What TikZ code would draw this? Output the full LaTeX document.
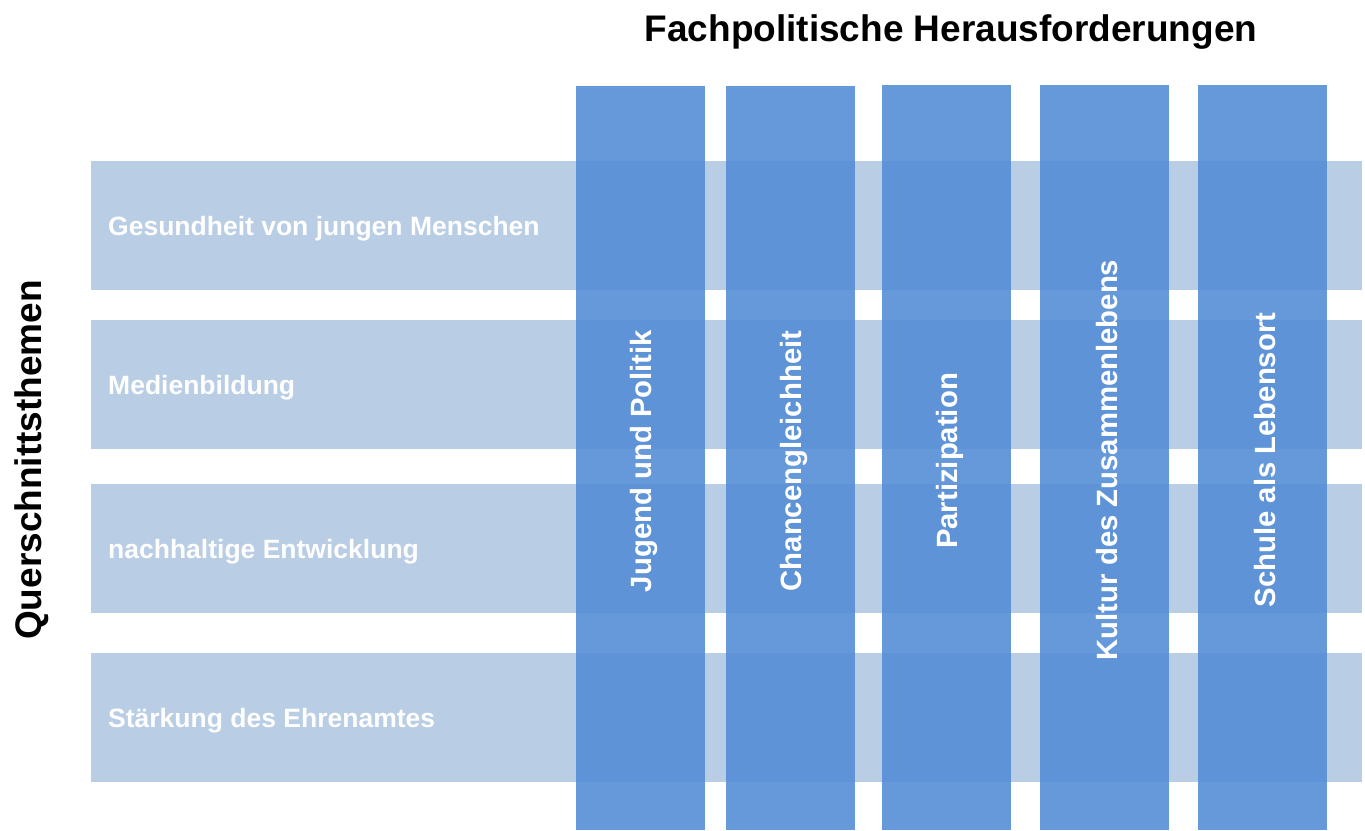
\documentclass[tikz,border=0pt]{standalone}
\usepackage{fontspec}
\setmainfont{Liberation Sans}
\definecolor{rowblue}{RGB}{185,205,229}
\definecolor{colblue}{RGB}{85,142,214}
\tikzset{
  rowbar/.style={fill=rowblue},
  colbar/.style={fill=colblue, opacity=0.9},
  rowlabel/.style={anchor=west, inner sep=0pt, text=white, font=\bfseries\fontsize{26.5}{30}\selectfont},
  collabel/.style={rotate=90, inner sep=0pt, text=white, font=\bfseries\fontsize{29.3}{32}\selectfont},
  headline/.style={inner sep=0pt, font=\bfseries\fontsize{37}{40}\selectfont}
}
\begin{document}
\begin{tikzpicture}[x=1pt,y=-1pt]
\useasboundingbox (0,0) rectangle (1365,830);
% Querschnittsthemen
\fill[rowbar] (91,161) rectangle (1362,290);
\fill[rowbar] (91,320) rectangle (1362,449);
\fill[rowbar] (91,484) rectangle (1362,613);
\fill[rowbar] (91,653) rectangle (1362,782);
% Herausforderungen
\fill[colbar] (576,86) rectangle (705,830);
\fill[colbar] (726,86) rectangle (855,830);
\fill[colbar] (882,85) rectangle (1011,830);
\fill[colbar] (1040,85) rectangle (1169,830);
\fill[colbar] (1198,85) rectangle (1327,830);
\node[headline] (fach) at (951,32) {Fachpolitische Herausforderungen};
\node[headline, rotate=90] (quer) at (32,460) {Querschnittsthemen};
\node[rowlabel] (gesund) at (108,229) {Gesundheit von jungen Menschen};
\node[rowlabel] (medien) at (108,388) {Medienbildung};
\node[rowlabel] (nachhalt) at (108,552) {nachhaltige Entwicklung};
\node[rowlabel] (ehrenamt) at (108,721) {Stärkung des Ehrenamtes};
\node[collabel] (jugend) at (643.5,461) {Jugend und Politik};
\node[collabel] (chancen) at (793.5,461) {Chancengleichheit};
\node[collabel] (partiz) at (949.5,461) {Partizipation};
\node[collabel] (kultur) at (1107.5,460) {Kultur des Zusammenlebens};
\node[collabel] (schule) at (1265.5,460) {Schule als Lebensort};
\end{tikzpicture}
\end{document}
